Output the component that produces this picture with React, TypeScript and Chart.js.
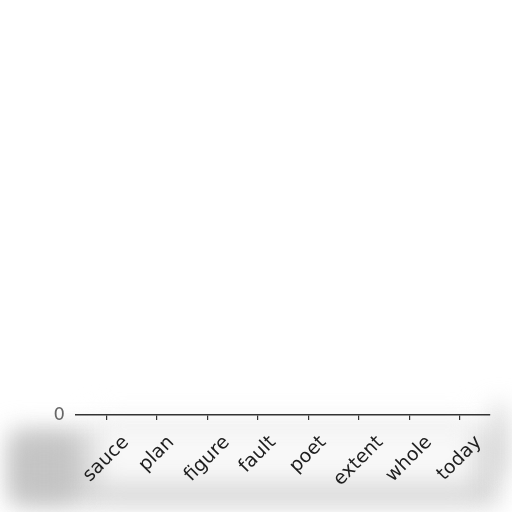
import { useEffect, useRef } from "react";
import { Chart, registerables } from "chart.js";

Chart.register(...registerables);

const categories = ["sauce", "plan", "figure", "fault", "poet", "extent", "whole", "today"];
const values = [0, 0, 0, 0, 0, 0, 0, 0];
const yTicks = [0];

const FONT = "'DejaVu Sans', sans-serif";

// soft grey smudge behind the axis area, as in the reference photo
const smudge = {
  id: "smudge",
  beforeDraw(chart: Chart) {
    const { ctx } = chart;
    const x = chart.scales.x;
    ctx.save();
    ctx.filter = "blur(12px)";
    ctx.fillStyle = "#d0d0d0";
    ctx.fillRect(10, x.top + 14, x.right - 2, 76);
    ctx.fillRect(x.right + 2, x.top - 10, 14, 70);
    ctx.fillStyle = "#c4c4c4";
    ctx.fillRect(14, x.top + 24, 60, 60);
    ctx.filter = "blur(14px)";
    ctx.fillStyle = "#f8f8f8";
    ctx.fillRect(x.left + 18, x.top + 2, x.width - 30, 70);
    ctx.restore();
  },
};

const rotatedLabels = {
  id: "rotatedLabels",
  afterDraw(chart: Chart) {
    const { ctx } = chart;
    const x = chart.scales.x;
    const size = 19;
    ctx.save();
    ctx.font = `${size}px ${FONT}`;
    ctx.fillStyle = "#1e1e1e";
    ctx.textAlign = "center";
    ctx.textBaseline = "middle";
    categories.forEach((label, i) => {
      const px = x.getPixelForValue(i);
      const w = ctx.measureText(label).width;
      const half = ((w + size * 1.1) * Math.SQRT1_2) / 2;
      ctx.save();
      ctx.translate(px, x.top + 17 + half);
      ctx.rotate(-Math.PI / 4);
      ctx.fillText(label, 0, 0);
      ctx.restore();
    });
    ctx.restore();
  },
};

export default function App() {
  const ref = useRef<HTMLCanvasElement | null>(null);
  const chartRef = useRef<Chart | null>(null);

  useEffect(() => {
    if (!ref.current) return;
    chartRef.current?.destroy();
    chartRef.current = new Chart(ref.current, {
      type: "bar",
      data: {
        datasets: [
          {
            data: values.map((v, i) => ({ x: i, y: v })),
            backgroundColor: "#1f77b4",
            barPercentage: 0.8,
            categoryPercentage: 1,
          },
        ],
      },
      plugins: [smudge, rotatedLabels],
      options: {
        animation: false,
        responsive: false,
        layout: { padding: { top: 20, right: 22, left: 0, bottom: 0 } },
        plugins: { legend: { display: false }, tooltip: { enabled: false } },
        scales: {
          x: {
            type: "linear",
            offset: false,
            min: -0.6,
            max: categories.length - 0.4,
            afterBuildTicks: (s) => {
              s.ticks = categories.map((_, i) => ({ value: i }));
            },
            afterFit: (s) => {
              s.height = 97;
            },
            border: { display: true, color: "#333", width: 1.5 },
            grid: {
              display: true,
              offset: false,
              drawOnChartArea: false,
              drawTicks: true,
              tickLength: 5,
              color: "#333",
              lineWidth: 1.2,
            },
            ticks: { display: false },
          },
          y: {
            min: 0,
            max: 1,
            afterBuildTicks: (s) => {
              s.ticks = yTicks.map((v) => ({ value: v }));
            },
            afterFit: (s) => {
              s.width = 76;
            },
            border: { display: false },
            grid: { display: false, drawTicks: false },
            ticks: { padding: 11, color: "#666", font: { family: FONT, size: 18 } },
          },
        },
      },
    });
    return () => {
      chartRef.current?.destroy();
      chartRef.current = null;
    };
  }, []);

  return (
    <div style={{ position: "fixed", left: 0, top: 0, width: 512, height: 512, background: "#fff" }}>
      <canvas ref={ref} width={512} height={512} aria-label="Bar chart of zero values by word" />
    </div>
  );
}
